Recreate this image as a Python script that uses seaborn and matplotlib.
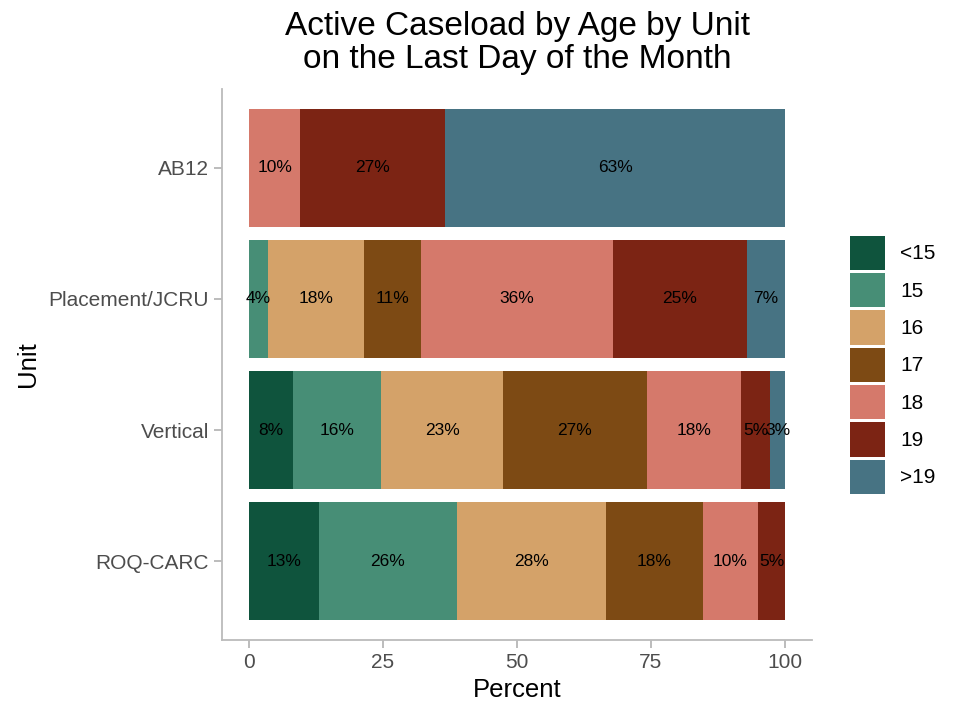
import pandas as pd
import matplotlib
matplotlib.use("Agg")
import matplotlib.pyplot as plt
import matplotlib.patches as mpatches
import seaborn as sns

# Data (percent of active caseload)
units = ['AB12', 'Placement/JCRU', 'Vertical', 'ROQ-CARC']
ages = ['<15', '15', '16', '17', '18', '19', '>19']
pct_lt15 = [0.0, 0.0, 8.3, 13.1]
pct_15 = [0.0, 3.6, 16.4, 25.7]
pct_16 = [0.0, 17.9, 22.7, 27.8]
pct_17 = [0.0, 10.7, 26.8, 18.1]
pct_18 = [9.6, 35.7, 17.6, 10.3]
pct_19 = [27.0, 25.0, 5.4, 5.0]
pct_gt19 = [63.4, 7.1, 2.8, 0.0]
colors = ['#0F543D', '#478E76', '#D4A269', '#7D4A14', '#D5796B', '#7C2414', '#477383']

sns.set_style('white')
plt.rcParams['font.family'] = ['Liberation Sans', 'DejaVu Sans']
plt.rcParams['text.color'] = 'black'

df = pd.DataFrame({'Unit': units, '<15': pct_lt15, '15': pct_15, '16': pct_16,
                   '17': pct_17, '18': pct_18, '19': pct_19, '>19': pct_gt19})
cum = df[ages].cumsum(axis=1)

fig = plt.figure(figsize=(9.55, 7.03), dpi=100)
ax = fig.add_axes([0.2325, 0.0896, 0.6175, 0.7838])

# stacked bars: draw cumulative totals from the last group back to the first
for i in range(len(ages) - 1, -1, -1):
    layer = pd.DataFrame({'Unit': units, 'cum': cum[ages[i]]})
    sns.barplot(data=layer, x='cum', y='Unit', order=units, color=colors[i],
                width=0.9, saturation=1, orient='h', ax=ax, linewidth=0)

# percentage labels in the middle of each segment
for r, unit in enumerate(units):
    for a in ages:
        v = df.loc[r, a]
        if v > 0:
            mid = cum.loc[r, a] - v / 2
            ax.text(mid, r, f'{round(v):.0f}%', ha='center', va='center',
                    fontsize=12.5, color='black')

ax.set_xlim(-5, 105)
ax.set_ylim(3.6, -0.6)
ax.set_xticks([0, 25, 50, 75, 100])
ax.set_xlabel('Percent', fontsize=18.5, color='black')
ax.set_ylabel('Unit', fontsize=18.5, color='black', labelpad=6)
ax.tick_params(axis='both', labelsize=15, labelcolor='#4D4D4D', color='#AAAAAA',
               length=6, width=1.1, bottom=True, left=True)
for s in ['top', 'right']:
    ax.spines[s].set_visible(False)
for s in ['left', 'bottom']:
    ax.spines[s].set_color('#BBBBBB')
    ax.spines[s].set_linewidth(1.3)

fig.text(0.5415, 0.985, 'Active Caseload by Age by Unit\non the Last Day of the Month',
         ha='center', va='top', fontsize=24, linespacing=1.12, color='black')

handles = [mpatches.Patch(facecolor=c, edgecolor='none', label=a) for a, c in zip(ages, colors)]
fig.legend(handles=handles, loc='upper left', bbox_to_anchor=(0.89, 0.665),
           frameon=False, fontsize=15, handlelength=1.68, handleheight=2.18,
           labelspacing=0.13, handletextpad=0.72, borderpad=0, borderaxespad=0)

fig.savefig('out.png', dpi=100)
